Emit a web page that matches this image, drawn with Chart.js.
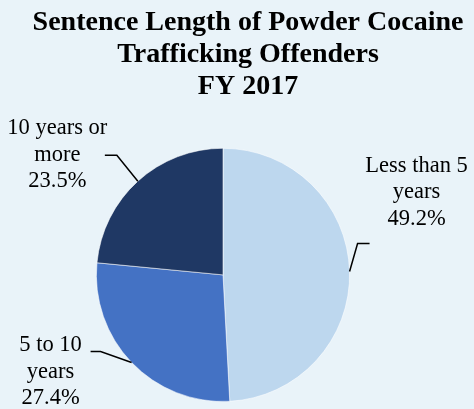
<!DOCTYPE html>
<html>
<head>
<meta charset="utf-8">
<script src="https://cdn.jsdelivr.net/npm/chart.js@4.4.1/dist/chart.umd.min.js"></script>
<style>
  html, body { margin: 0; padding: 0; background: #e9f3f9; }
  #wrap { width: 474px; height: 409px; }
</style>
</head>
<body>
<div id="wrap"><canvas id="c" width="474" height="409"></canvas></div>
<script>
// ---- data ----
const categories = ['Less than 5 years', '5 to 10 years', '10 years or more'];
const labelLines = [['Less than 5', 'years'], ['5 to 10', 'years'], ['10 years or', 'more']];
const values = [49.2, 27.4, 23.5];
const titleLines = ['Sentence Length of Powder Cocaine', 'Trafficking Offenders', 'FY 2017'];

const colors = ['#bdd7ee', '#4472c4', '#1f3864'];
// leader-line / label offsets (style only): elbow offset, horizontal run, text offset
const labelStyle = [
  { ex: 8,   ey: -28, hx: 12,  tx: 47,   ty: -72 },
  { ex: -31, ey: -11, hx: -10, tx: -40,  ty: 0 },
  { ex: -21, ey: -26, hx: -12, tx: -47.5, ty: -21 }
];

const labelFont = '22.5px "Liberation Serif", "Times New Roman", serif';
const labelLineH = 26.5;

const leaderPlugin = {
  id: 'leaders',
  afterDatasetsDraw(chart) {
    const ctx = chart.ctx;
    const meta = chart.getDatasetMeta(0);
    ctx.save();
    meta.data.forEach((arc, i) => {
      const p = arc.getProps(['x', 'y', 'startAngle', 'endAngle', 'outerRadius'], true);
      const mid = (p.startAngle + p.endAngle) / 2;
      const px = p.x + Math.cos(mid) * p.outerRadius;
      const py = p.y + Math.sin(mid) * p.outerRadius;
      const s = labelStyle[i];
      const bx = px + s.ex, by = py + s.ey;
      const hx = bx + s.hx;
      ctx.beginPath();
      ctx.moveTo(px, py);
      ctx.lineTo(bx, by);
      ctx.lineTo(hx, by);
      ctx.strokeStyle = '#000';
      ctx.lineWidth = 1.5;
      ctx.stroke();
      const lines = labelLines[i].concat([values[i].toFixed(1) + '%']);
      ctx.font = labelFont;
      ctx.fillStyle = '#000';
      ctx.textAlign = 'center';
      ctx.textBaseline = 'alphabetic';
      lines.forEach((t, k) => {
        ctx.fillText(t, hx + s.tx, by + s.ty + k * labelLineH);
      });
    });
    ctx.restore();
  }
};

new Chart(document.getElementById('c'), {
  type: 'pie',
  data: {
    labels: categories,
    datasets: [{
      data: values,
      backgroundColor: colors,
      borderColor: 'rgba(255,255,255,0.55)',
      borderWidth: 1
    }]
  },
  options: {
    responsive: false,
    animation: false,
    layout: { padding: { left: 0, right: 28, top: 0, bottom: 7 } },
    plugins: {
      legend: { display: false },
      tooltip: { enabled: false },
      title: {
        display: true,
        text: titleLines,
        color: '#000',
        font: { family: '"Liberation Serif", "Times New Roman", serif', size: 28, weight: 'bold', lineHeight: 1.14 },
        padding: { top: 7, bottom: 45 }
      }
    }
  },
  plugins: [leaderPlugin, {
    id: 'titleShift',
    afterLayout(chart) {
      // center the title block across the canvas offset as in the reference
      const tb = chart.titleBlock;
      if (tb) { tb.left = 22; tb.right = 474; tb.width = 452; }
    }
  }]
});
</script>
</body>
</html>
